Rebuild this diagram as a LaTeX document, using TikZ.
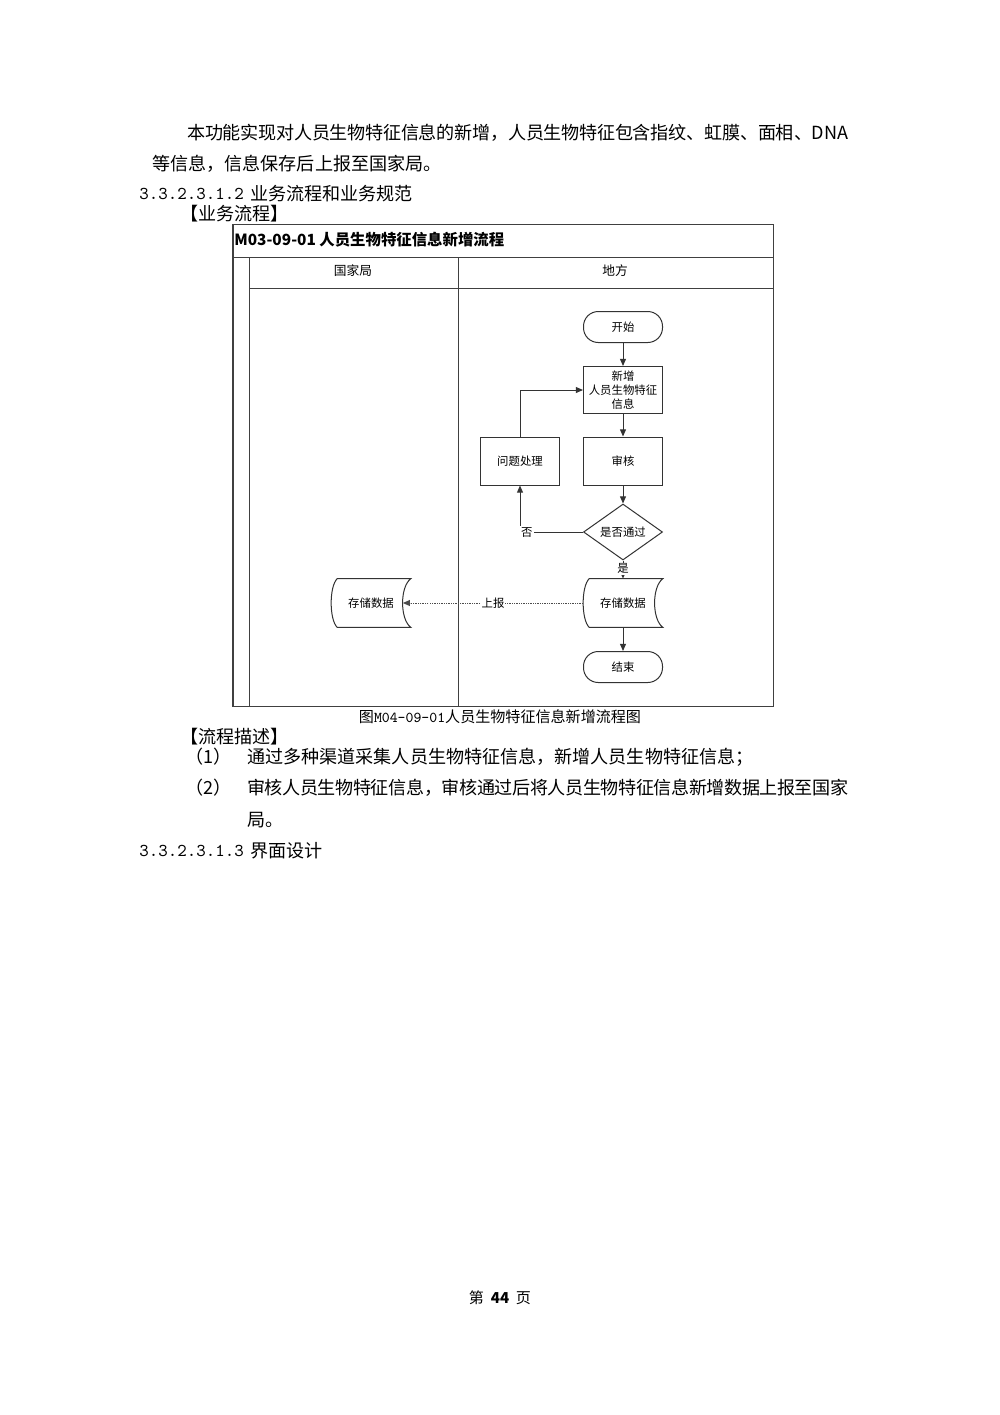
\documentclass[tikz,border=0pt]{standalone}
\usepackage{fontspec}
\setmainfont{Noto Sans CJK SC}
\usetikzlibrary{arrows.meta,shapes.geometric,calc}
\XeTeXlinebreaklocale "zh"
\XeTeXlinebreakskip=0pt plus 3pt minus 0.6pt
\def\px{0.021cm}
\newcommand\drawstore[1]{%
  \draw[flowline] ($(#1.north west)+(6,0)$) -- (#1.north east)
    .. controls ($(#1.north east)+(-11,8)$) and ($(#1.south east)+(-11,-8)$) .. (#1.south east)
    -- ($(#1.south west)+(6,0)$)
    .. controls ($(#1.south west)+(-2,-8)$) and ($(#1.north west)+(-2,8)$) .. cycle;}
\newcommand\fullline[1]{\rightskip=0pt\leftskip=0pt\parindent=0pt\parfillskip=0pt\relax #1\par}
\tikzset{
  body/.style={font=\fontsize{10.8}{13}\selectfont, anchor=west, inner sep=0pt},
  small/.style={font=\fontsize{6.8}{8.2}\selectfont},
  frameline/.style={draw=black!75, line width=0.6pt},
  flowline/.style={draw=black!80, line width=0.6pt},
  terminal/.style={flowline, small, rounded corners=0.31cm, minimum width=79*\px, minimum height=31*\px, inner sep=1pt},
  procbox/.style={flowline, small, minimum width=79*\px, minimum height=48*\px, align=center, inner sep=1pt},
  storebox/.style={small, minimum width=79*\px, minimum height=48*\px, inner sep=1pt},
  decbox/.style={flowline, small, diamond, minimum width=79*\px, minimum height=46*\px, inner sep=0pt},
  arr/.style={flowline, -{Triangle[length=1.5mm,width=1.25mm]}},
  lbl/.style={small, fill=white, inner sep=0.6pt}
}
\begin{document}
\begin{tikzpicture}[x=0.021cm,y=-0.021cm]
\path[use as bounding box, fill=white] (0,0) rectangle (1000,1415);

% body text above
\node[body, text width=661*\px] (p1) at (187,133) {\fullline{本功能实现对人员生物特征信息的新增，人员生物特征包含指纹、虹膜、面相、DNA}};
\node[body] (p2) at (152,164) {等信息，信息保存后上报至国家局。};
\node[body] (s1n) at (139,194) {\ttfamily 3.3.2.3.1.2};
\node[body] (s1t) at (250,194) {业务流程和业务规范};
\node[body] (h1) at (180,214) {【业务流程】};

% swimlane frame
\draw[frameline] (233,224) rectangle (773,706);
\draw[frameline] (233,257) -- (773,257);
\draw[frameline] (249,257) -- (249,706);
\draw[frameline] (458,257) -- (458,706);
\draw[frameline] (249,288) -- (773,288);
\node[anchor=west, inner sep=0pt, font=\bfseries\fontsize{9.2}{11}\selectfont] (title) at (234,240) {M03-09-01\ 人员生物特征信息新增流程};
\node[font=\fontsize{7.6}{9}\selectfont] (lane1) at (353,271) {国家局};
\node[font=\fontsize{7.6}{9}\selectfont] (lane2) at (615,271) {地方};

% flow nodes
\node[terminal] (start) at (623,327) {开始};
\node[procbox, minimum height=47*\px] (add) at (623,390) {新增\\人员生物特征\\信息};
\node[procbox] (audit) at (623,461) {审核};
\node[procbox] (issue) at (520,461) {问题处理};
\node[decbox] (dec) at (623,532) {是否通过};
\node[storebox] (store) at (623,603) {存储数据};
\drawstore{store}
\node[terminal] (end) at (623,667) {结束};
\node[storebox] (store2) at (371,603) {存储数据};
\drawstore{store2}
\coordinate (store2in) at ($(store2.east)+(-8,0)$);

% connectors
\draw[arr] (start) -- (add);
\draw[arr] (add) -- (audit);
\draw[arr] (audit) -- (dec);
\draw[arr] (dec) -- node[lbl, pos=0.45] {是} (store);
\draw[arr] (store) -- (end);
\draw[arr] (dec.west) -| node[lbl, pos=0.445] {否} (issue.south);
\draw[arr] (issue.north) |- (add.west);
\draw[arr, draw=black!70, dash pattern=on 0.8pt off 0.6pt] (store.west) -- node[lbl] {上报} (store2in);

% caption and text below
\node[font=\fontsize{9}{11}\selectfont, inner sep=0pt] (cap) at (500,717) {图{\ttfamily M04-09-01}人员生物特征信息新增流程图};
\node[body] (h2) at (180,737) {【流程描述】};
\node[body] (n1) at (185,757) {（1）};
\node[body] (t1) at (247,757) {通过多种渠道采集人员生物特征信息，新增人员生物特征信息；};
\node[body] (n2) at (185,788) {（2）};
\node[body, text width=601*\px] (t2) at (247,788) {\fullline{审核人员生物特征信息，审核通过后将人员生物特征信息新增数据上报至国家}};
\node[body] (t3) at (247,820) {局。};
\node[body] (s2n) at (139,851) {\ttfamily 3.3.2.3.1.3};
\node[body] (s2t) at (250,851) {界面设计};

\node[font=\fontsize{9}{11}\selectfont, inner sep=0pt] (page) at (500,1298) {第\hspace{0.45em}\textbf{44}\hspace{0.45em}页};
\end{tikzpicture}
\end{document}
